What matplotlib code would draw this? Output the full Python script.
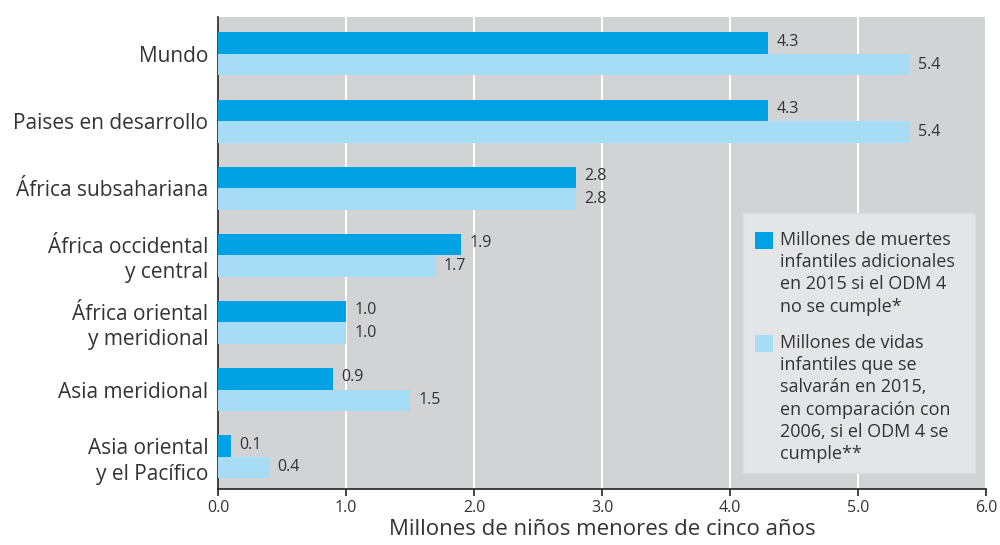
import matplotlib
matplotlib.use("Agg")
import matplotlib.pyplot as plt
from matplotlib.patches import Rectangle

# Data
categories = [
    "Mundo",
    "Paises en desarrollo",
    "África subsahariana",
    "África occidental\ny central",
    "África oriental\ny meridional",
    "Asia meridional",
    "Asia oriental\ny el Pacífico",
]
muertes_adicionales = [4.3, 4.3, 2.8, 1.9, 1.0, 0.9, 0.1]
vidas_salvadas = [5.4, 5.4, 2.8, 1.7, 1.0, 1.5, 0.4]
xticks = [0, 1, 2, 3, 4, 5, 6]
xtick_labels = ["0.0", "1.0", "2.0", "3.0", "4.0", "5.0", "6.0"]

legend_labels = [
    "Millones de muertes\ninfantiles adicionales\nen 2015 si el ODM 4\nno se cumple*",
    "Millones de vidas\ninfantiles que se\nsalvarán en 2015,\nen comparación con\n2006, si el ODM 4 se\ncumple**",
]
xlabel = "Millones de niños menores de cinco años"

DARK = "#00a2e3"
LIGHT = "#a7dcf5"
BG = "#d1d3d4"
TEXT = "#333333"

plt.rcParams["font.family"] = ["Open Sans", "DejaVu Sans"]

fig = plt.figure(figsize=(10, 5.45), dpi=100)
ax = fig.add_axes([0.218, 0.1028, 0.768, 0.866])
ax.set_facecolor(BG)

bar_h = 0.32
ypos = list(range(len(categories)))
y_dark = [y - bar_h / 2 for y in ypos]
y_light = [y + bar_h / 2 for y in ypos]

ax.barh(y_dark, muertes_adicionales, height=bar_h, color=DARK, zorder=3)
ax.barh(y_light, vidas_salvadas, height=bar_h, color=LIGHT, zorder=3)

for y, v in zip(y_dark, muertes_adicionales):
    ax.annotate(f"{v:.1f}", (v, y), xytext=(6, 1), textcoords="offset points",
                va="center", ha="left", fontsize=11.5, color=TEXT, zorder=5)
for y, v in zip(y_light, vidas_salvadas):
    ax.annotate(f"{v:.1f}", (v, y), xytext=(6, 0), textcoords="offset points",
                va="center", ha="left", fontsize=11.5, color=TEXT, zorder=5)

ax.set_xlim(0, 6)
ax.set_ylim(6.48, -0.55)
ax.set_xticks(xticks)
ax.set_xticklabels(xtick_labels, fontsize=11.5, color=TEXT)
ax.set_yticks(ypos)
ax.set_yticklabels(categories, fontsize=15, color=TEXT, linespacing=1.28)
ax.tick_params(axis="y", length=0, pad=7)
ax.tick_params(axis="x", length=5, width=1.2, direction="out", pad=3, color="#222222")
ax.set_xlabel(xlabel, fontsize=16, color=TEXT, labelpad=2)

ax.grid(axis="x", color="white", linewidth=1.5, zorder=1)
ax.set_axisbelow(True)
for s in ["top", "right"]:
    ax.spines[s].set_visible(False)
ax.spines["left"].set_color("#222222")
ax.spines["bottom"].set_color("#222222")
ax.spines["left"].set_linewidth(1.2)
ax.spines["bottom"].set_linewidth(1.2)

# Legend panel placed in figure pixel-fraction coordinates
W, H = 1000.0, 545.0
def fx(px):
    return px / W
def fy(py):
    return 1 - py / H

panel = Rectangle((fx(743), fy(473)), fx(975) - fx(743), fy(213) - fy(473),
                  transform=fig.transFigure, facecolor="#e4e5e7",
                  edgecolor="#dcdddf", linewidth=1.0, zorder=10)
fig.patches.append(panel)

for line_y, color, label in [(240, DARK, legend_labels[0]), (343, LIGHT, legend_labels[1])]:
    sq = Rectangle((fx(755), fy(line_y + 8.5)), fx(773) - fx(755), fy(line_y - 8.5) - fy(line_y + 8.5),
                   transform=fig.transFigure, facecolor=color, edgecolor="none", zorder=11)
    fig.patches.append(sq)
    fig.text(fx(780), fy(line_y - 9), label, transform=fig.transFigure, ha="left", va="top",
             fontsize=13, color=TEXT, linespacing=1.3, zorder=12)

fig.savefig("out.png", dpi=100)
